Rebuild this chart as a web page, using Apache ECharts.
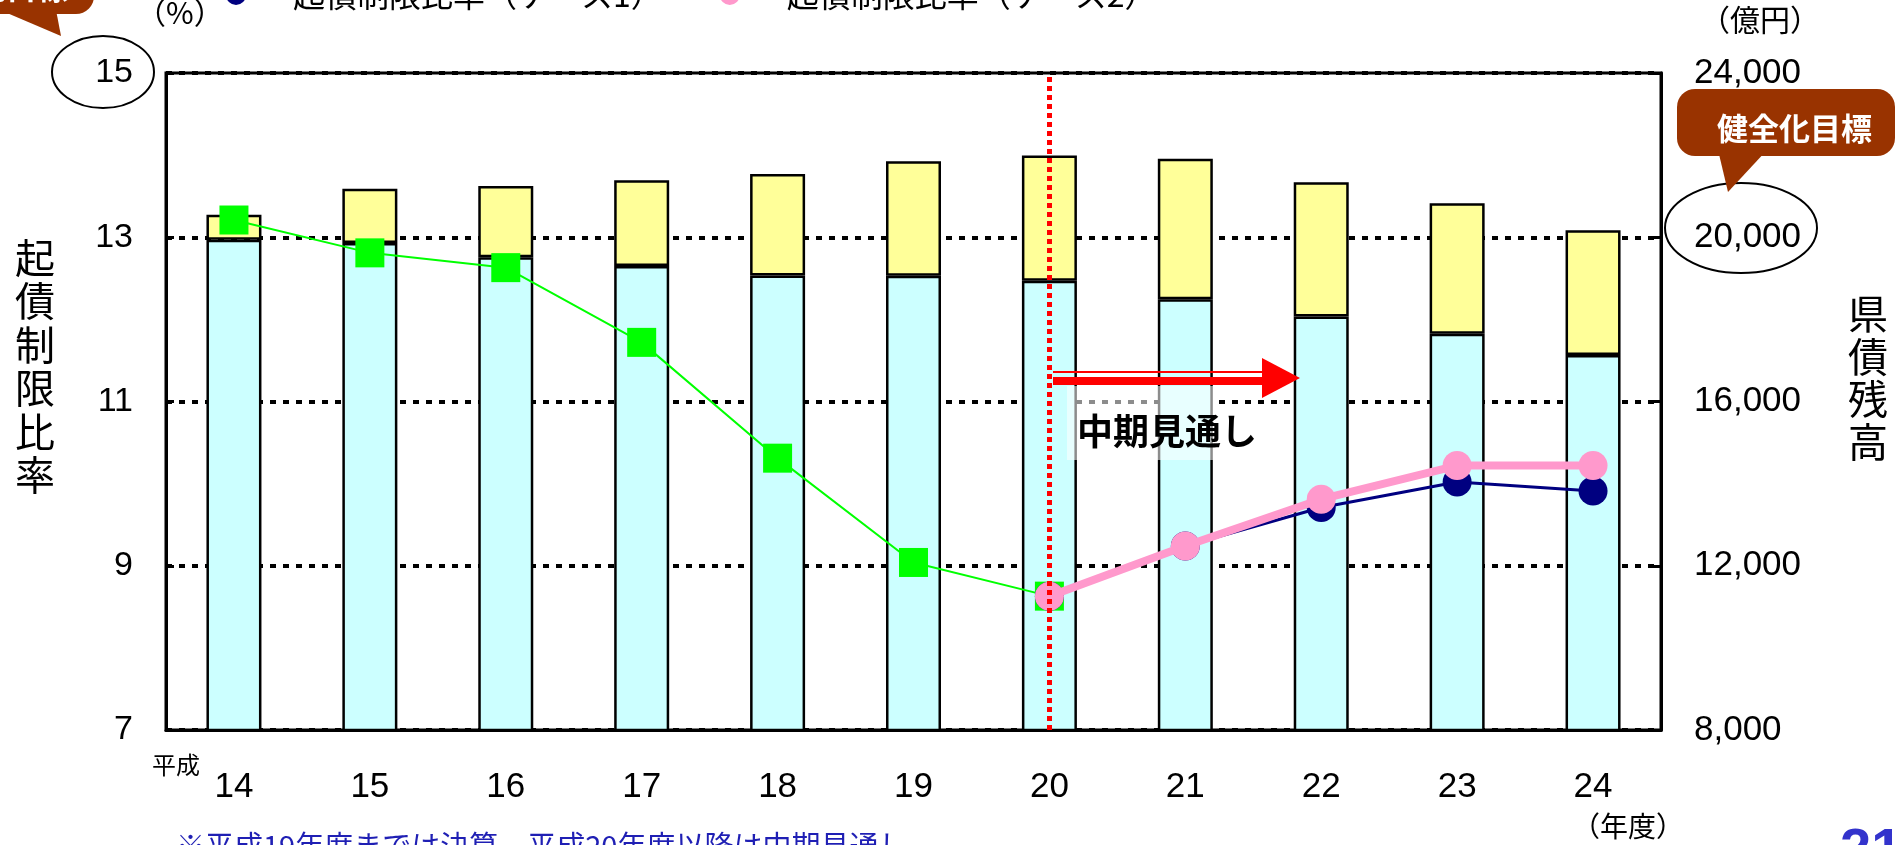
<!DOCTYPE html>
<html>
<head>
<meta charset="utf-8">
<title>起債制限比率と県債残高</title>
<script src="https://cdn.jsdelivr.net/npm/echarts@6/dist/echarts.min.js"></script>
<style>
  html, body { margin: 0; padding: 0; background: #fff; }
  #chart { width: 1904px; height: 845px; }
</style>
</head>
<body>
<div id="chart"></div>
<script>
// 年度（平成）
const years = ['14', '15', '16', '17', '18', '19', '20', '21', '22', '23', '24'];
// 県債残高（億円）：下段（水色）と上段（黄色）
const debtLower = [19940, 19860, 19510, 19300, 19070, 19060, 18940, 18490, 18070, 17650, 17130];
const debtUpper = [610, 1320, 1740, 2090, 2470, 2790, 3050, 3420, 3270, 3180, 3040];
// 起債制限比率（%）
const ratioActual = [13.21, 12.81, 12.63, 11.72, 10.31, 9.04, 8.63, null, null, null, null];
const ratioCase1 = [null, null, null, null, null, null, 8.63, 9.24, 9.71, 10.02, 9.91];
const ratioCase2 = [null, null, null, null, null, null, 8.63, 9.24, 9.81, 10.22, 10.22];
// 軸の目盛
const ratioAxis = { min: 7, max: 15, step: 2 };
const debtAxis = { min: 8000, max: 24000, step: 4000 };
const forecastStart = '20';

const FONT = "'Liberation Sans', 'Noto Sans CJK JP', sans-serif";
const JP = "'Noto Sans CJK JP', sans-serif";

const chart = echarts.init(document.getElementById('chart'));

const option = {
  animation: false,
  textStyle: { fontFamily: FONT, color: '#000' },
  grid: {
    left: 166, right: 243, top: 73, bottom: 115,
    show: true, borderColor: '#000', borderWidth: 3, backgroundColor: 'transparent'
  },
  legend: {
    data: ['起債制限比率（ケース1）', '起債制限比率（ケース2）'],
    left: 221, top: -26,
    icon: 'circle', itemWidth: 20, itemHeight: 20, itemGap: 57,
    textStyle: { fontFamily: JP, fontSize: 32, color: '#000', padding: [0, 0, 0, 42] }
  },
  xAxis: {
    type: 'category',
    data: years,
    axisLine: { lineStyle: { color: '#000', width: 3 } },
    axisTick: { inside: true, length: 12, lineStyle: { color: '#000', width: 2 } },
    axisLabel: { fontSize: 35, color: '#000', margin: 40 }
  },
  yAxis: [
    {
      type: 'value', min: ratioAxis.min, max: ratioAxis.max, interval: ratioAxis.step,
      axisLine: { show: true, lineStyle: { color: '#000', width: 3 } },
      axisTick: { show: true, inside: true, length: 8, lineStyle: { color: '#000', width: 3 } },
      axisLabel: { fontSize: 34, color: '#000', margin: 33 },
      splitLine: { show: true, lineStyle: { color: '#000', width: 4, type: [6, 7] } }
    },
    {
      type: 'value', min: debtAxis.min, max: debtAxis.max, interval: debtAxis.step,
      axisLine: { show: true, lineStyle: { color: '#000', width: 3 } },
      axisTick: { show: true, inside: true, length: 8, lineStyle: { color: '#000', width: 3 } },
      axisLabel: {
        fontSize: 35, color: '#000', margin: 33,
        formatter: v => v.toLocaleString('en-US')
      },
      splitLine: { show: false }
    }
  ],
  series: [
    {
      name: '県債残高（下段）', type: 'bar', stack: 'debt', yAxisIndex: 1,
      barWidth: 55, data: debtLower,
      itemStyle: { color: '#CCFFFF', borderColor: '#000', borderWidth: 2.5 },
      markLine: {
        silent: true, symbol: 'none', label: { show: false },
        lineStyle: { color: '#FF0000', width: 5, type: [5, 4] },
        data: [{ xAxis: forecastStart }],
        z: 10
      }
    },
    {
      name: '県債残高（上段）', type: 'bar', stack: 'debt', yAxisIndex: 1,
      barWidth: 55, data: debtUpper,
      itemStyle: { color: '#FFFF99', borderColor: '#000', borderWidth: 2.5 }
    },
    {
      name: '起債制限比率', type: 'line', yAxisIndex: 0, data: ratioActual,
      symbol: 'rect', symbolSize: 29, z: 3,
      lineStyle: { color: '#00FF00', width: 2 },
      itemStyle: { color: '#00FF00' }
    },
    {
      name: '起債制限比率（ケース1）', type: 'line', yAxisIndex: 0, data: ratioCase1,
      symbol: 'circle', symbolSize: 29, z: 4,
      lineStyle: { color: '#000080', width: 3 },
      itemStyle: { color: '#000080' }
    },
    {
      name: '起債制限比率（ケース2）', type: 'line', yAxisIndex: 0, data: ratioCase2,
      symbol: 'circle', symbolSize: 29, z: 5,
      lineStyle: { color: '#FF99CC', width: 8 },
      itemStyle: { color: '#FF99CC' }
    }
  ],
  graphic: [
    // 単位・軸タイトル
    { type: 'text', left: 136, top: -2, style: { text: '（%）', font: '30px ' + JP, fill: '#000' } },
    { type: 'text', left: 1700, top: 5, style: { text: '（億円）', font: '30px ' + JP, fill: '#000' } },
    { type: 'text', left: 15, top: 236, style: { text: '起\n債\n制\n限\n比\n率', font: '40px ' + JP, lineHeight: 43.5, fill: '#000' } },
    { type: 'text', left: 1848, top: 293, style: { text: '県\n債\n残\n高', font: '40px ' + JP, lineHeight: 42.5, fill: '#000' } },
    { type: 'text', left: 152, top: 753, style: { text: '平成', font: '24px ' + JP, fill: '#000' } },
    { type: 'text', left: 1572, top: 812, style: { text: '（年度）', font: '28px ' + JP, fill: '#000' } },
    // 目標の丸
    { type: 'ellipse', shape: { cx: 103, cy: 72, rx: 51, ry: 36 }, style: { fill: 'none', stroke: '#000', lineWidth: 2 }, z: 20 },
    { type: 'ellipse', shape: { cx: 1741, cy: 228, rx: 76, ry: 45 }, style: { fill: 'none', stroke: '#000', lineWidth: 2 }, z: 20 },
    // 吹き出し（左上・切れている）
    { type: 'rect', shape: { x: -150, y: -60, width: 244, height: 74, r: 18 }, style: { fill: '#993300' }, z: 20 },
    { type: 'polygon', shape: { points: [[0, 10], [56, 10], [61, 36]] }, style: { fill: '#993300' }, z: 20 },
    { type: 'text', right: 1836, top: -28, style: { text: '健全化目標', font: 'bold 31px ' + JP, fill: '#fff' }, z: 21 },
    // 吹き出し（右）
    { type: 'rect', shape: { x: 1677, y: 89, width: 218, height: 67, r: 18 }, style: { fill: '#993300' }, z: 20 },
    { type: 'polygon', shape: { points: [[1718, 150], [1767, 150], [1728, 192]] }, style: { fill: '#993300' }, z: 20 },
    { type: 'text', left: 1717, top: 113, style: { text: '健全化目標', font: 'bold 31px ' + JP, fill: '#fff' }, z: 21 },
    // 中期見通しの矢印
    { type: 'line', shape: { x1: 1053, y1: 372, x2: 1266, y2: 372 }, style: { stroke: '#FF0000', lineWidth: 2 }, z: 20 },
    { type: 'rect', shape: { x: 1053, y: 377, width: 215, height: 8 }, style: { fill: '#FF0000' }, z: 20 },
    { type: 'polygon', shape: { points: [[1262, 358], [1300, 378], [1262, 398]] }, style: { fill: '#FF0000' }, z: 20 },
    { type: 'rect', shape: { x: 1067, y: 386, width: 148, height: 74 }, style: { fill: 'rgba(255,255,255,0.55)' }, z: 19 },
    { type: 'text', left: 1077, top: 413, style: { text: '中期見通し', font: 'bold 36px ' + JP, fill: '#000' }, z: 21 },
    // 注記・ページ番号（下端で切れている）
    { type: 'text', left: 176, top: 831, style: { text: '※平成19年度までは決算、平成20年度以降は中期見通し', font: '29px ' + JP, fill: '#1F1FB4' } },
    { type: 'text', left: 1840, top: 824, style: { text: '21', font: 'bold 56px ' + FONT, fill: '#3333CC' } }
  ]
};

chart.setOption(option);
</script>
</body>
</html>
